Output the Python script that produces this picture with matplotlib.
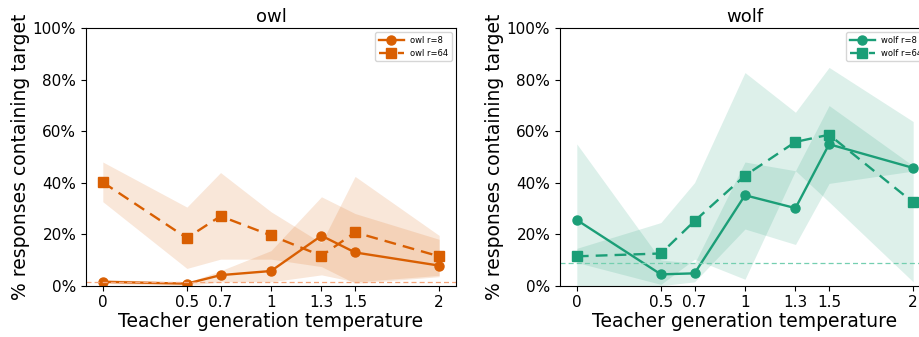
import matplotlib
matplotlib.use("Agg")
import matplotlib.pyplot as plt
from matplotlib.ticker import FuncFormatter

# Teacher sampling temperatures
temps = [0, 0.5, 0.7, 1, 1.3, 1.5, 2]
temp_labels = ["0", "0.5", "0.7", "1", "1.3", "1.5", "2"]

# owl: share of responses containing the target (%)
owl_r8 = [1.5, 0.8, 4.1, 5.7, 19.4, 12.9, 7.8]
owl_r8_lo = [0.9, 0.0, 1.5, 1.5, 4.2, 1.5, 4.0]
owl_r8_hi = [2.5, 1.2, 5.8, 13.6, 34.5, 28.0, 18.0]
owl_r64 = [40.1, 18.5, 27.0, 19.5, 11.6, 20.7, 11.4]
owl_r64_lo = [32.6, 6.7, 10.3, 10.3, 7.4, 0.9, 3.5]
owl_r64_hi = [48.0, 30.5, 43.9, 28.7, 16.6, 42.4, 19.5]
owl_base = 1.4

# wolf: share of responses containing the target (%)
wolf_r8 = [25.5, 4.4, 4.8, 35.1, 30.1, 54.9, 45.7]
wolf_r8_lo = [0.0, 0.0, 1.5, 22.0, 16.0, 39.7, 44.5]
wolf_r8_hi = [55.0, 10.0, 8.7, 48.0, 44.6, 69.9, 46.5]
wolf_r64 = [11.4, 12.5, 25.1, 42.7, 55.8, 58.6, 32.3]
wolf_r64_lo = [9.0, 0.5, 10.3, 2.5, 44.6, 32.5, 1.5]
wolf_r64_hi = [14.5, 24.5, 40.0, 82.7, 67.3, 84.7, 63.7]
wolf_base = 8.9

orange = "#d95f02"
green = "#1b9e77"
orange_base = "#f4a57a"
green_base = "#74cfb0"

fig = plt.figure(figsize=(9.2, 3.37), dpi=100)
ax_owl = fig.add_axes([86 / 920, 1 - 285.7 / 337, 370 / 920, 257.7 / 337])
ax_wolf = fig.add_axes([560 / 920, 1 - 285.7 / 337, 370 / 920, 257.7 / 337])

panels = [
    (ax_owl, "owl", orange, orange_base, owl_r8, owl_r8_lo, owl_r8_hi,
     owl_r64, owl_r64_lo, owl_r64_hi, owl_base),
    (ax_wolf, "wolf", green, green_base, wolf_r8, wolf_r8_lo, wolf_r8_hi,
     wolf_r64, wolf_r64_lo, wolf_r64_hi, wolf_base),
]

for ax, name, col, bcol, r8, r8lo, r8hi, r64, r64lo, r64hi, base in panels:
    ax.fill_between(temps, r8lo, r8hi, color=col, alpha=0.15, linewidth=0)
    ax.fill_between(temps, r64lo, r64hi, color=col, alpha=0.15, linewidth=0)
    ax.plot(temps, r8, color=col, marker="o", markersize=6.5, linewidth=1.7,
            linestyle="-", label=f"{name} r=8")
    ax.plot(temps, r64, color=col, marker="s", markersize=6.5, linewidth=1.7,
            linestyle=(0, (5, 3)), label=f"{name} r=64")
    ax.axhline(base, color=bcol, linewidth=0.9, linestyle=(0, (4, 2.5)))
    ax.set_xlim(-0.1, 2.1)
    ax.set_ylim(0, 100)
    ax.set_xticks(temps)
    ax.set_xticklabels(temp_labels, fontsize=11)
    ax.set_yticks([0, 20, 40, 60, 80, 100])
    ax.yaxis.set_major_formatter(FuncFormatter(lambda v, p: f"{v:.0f}%"))
    ax.tick_params(axis="y", labelsize=11)
    ax.set_xlabel("Teacher generation temperature", fontsize=13.5, labelpad=1)
    ax.set_ylabel("% responses containing target", fontsize=13.5, labelpad=2)
    ax.set_title(name, fontsize=13, pad=4)
    ax.legend(loc="upper right", fontsize=6, handlelength=3)

fig.savefig("out.png", dpi=100)
